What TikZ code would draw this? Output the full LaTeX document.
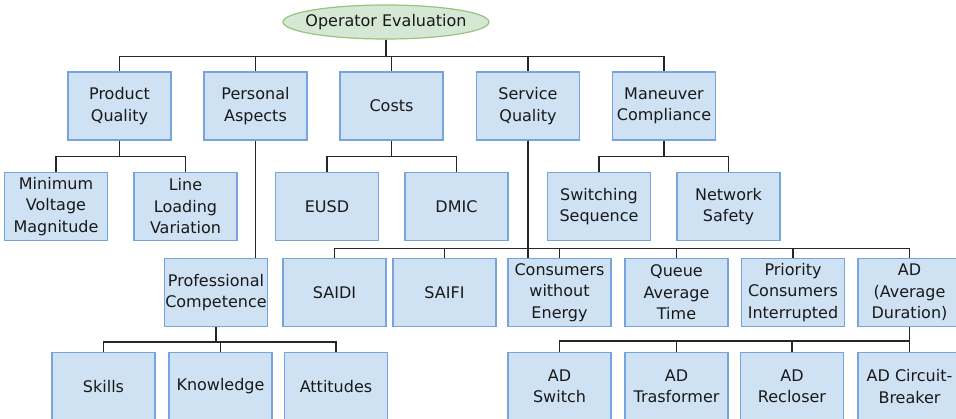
\documentclass[tikz,border=0pt]{standalone}
\usepackage{fontspec}
\setmainfont{DejaVu Sans}
\usetikzlibrary{shapes.geometric}

\definecolor{boxfill}{RGB}{207,226,243}
\definecolor{boxline}{RGB}{120,164,222}
\definecolor{rootfill}{RGB}{213,232,212}
\definecolor{rootline}{RGB}{151,196,126}

\tikzset{
  crit/.style = {draw=boxline, fill=boxfill, line width=1.3pt, rectangle,
    minimum width=103pt, minimum height=68pt, inner sep=0pt, align=center,
    text=black!90, font=\fontsize{16pt}{21.5pt}\selectfont},
  goal/.style = {draw=rootline, fill=rootfill, line width=1.2pt, ellipse,
    minimum width=206pt, minimum height=34pt, inner xsep=-8pt, inner ysep=0pt,
    text=black!90, font=\fontsize{16pt}{21.5pt}\selectfont},
  link/.style = {draw=black!85, line width=1.3pt}
}

\begin{document}
\begin{tikzpicture}[x=1pt, y=-1pt]
\useasboundingbox (0,0) rectangle (956,419);

\node[goal] (root) at (386,22) {Operator Evaluation};

% first level
\node[crit] (pq) at (119.5,106) {Product\\Quality};
\node[crit] (pa) at (255.5,106) {Personal\\Aspects};
\node[crit] (costs) at (391.5,106) {Costs};
\node[crit] (sq) at (528,106) {Service\\Quality};
\node[crit] (mc) at (664,106) {Maneuver\\Compliance};

% second level
\node[crit] (mvm) at (56,206.5) {Minimum\\Voltage\\Magnitude};
\node[crit] (llv) at (185.5,206.5) {Line\\Loading\\Variation};
\node[crit] (eusd) at (327,206.5) {EUSD};
\node[crit] (dmic) at (456.5,206.5) {DMIC};
\node[crit] (ss) at (599,206.5) {Switching\\Sequence};
\node[crit] (ns) at (728.5,206.5) {Network\\Safety};

% third level
\node[crit] (pc) at (216,292.5) {Professional\\Competence};
\node[crit] (saidi) at (334.5,292.5) {SAIDI};
\node[crit] (saifi) at (444.5,292.5) {SAIFI};
\node[crit] (cwe) at (559.5,292.5) {Consumers\\without\\Energy};
\node[crit] (qat) at (676.5,292.5) {Queue\\Average\\Time};
\node[crit] (pci) at (793,292.5) {Priority\\Consumers\\Interrupted};
\node[crit] (ad) at (909.5,292.5) {AD\\(Average\\Duration)};

% fourth level
\node[crit] (skills) at (103.5,386.5) {Skills};
\node[crit] (know) at (220.5,386.5) {Knowledge};
\node[crit] (att) at (336,386.5) {Attitudes};
\node[crit] (adsw) at (559.5,386.5) {AD\\Switch};
\node[crit] (adtr) at (676.5,386.5) {AD\\Trasformer};
\node[crit] (adre) at (792,386.5) {AD\\Recloser};
\node[crit] (adcb) at (909.5,386.5) {AD Circuit-\\Breaker};

% connectors
\foreach \c in {pq,pa,costs,sq,mc}
  \draw[link] (root.south) -- ++(0pt,-17pt) -| (\c.north);
\foreach \c in {mvm,llv}
  \draw[link] (pq.south) -- ++(0pt,-16pt) -| (\c.north);
\foreach \c in {eusd,dmic}
  \draw[link] (costs.south) -- ++(0pt,-16pt) -| (\c.north);
\foreach \c in {ss,ns}
  \draw[link] (mc.south) -- ++(0pt,-16pt) -| (\c.north);
\draw[link] (pa.south) -- (pa.south |- pc.north);
\draw[link] (sq.south) -- (sq.south |- cwe.north);
\foreach \c in {saidi,saifi,cwe,qat,pci,ad}
  \draw[link] (sq.south) -- ++(0pt,-108pt) -| (\c.north);
\foreach \c in {skills,know,att}
  \draw[link] (pc.south) -- ++(0pt,-15pt) -| (\c.north);
\foreach \c in {adsw,adtr,adre,adcb}
  \draw[link] (ad.south) -- ++(0pt,-14pt) -| (\c.north);
\end{tikzpicture}
\end{document}
